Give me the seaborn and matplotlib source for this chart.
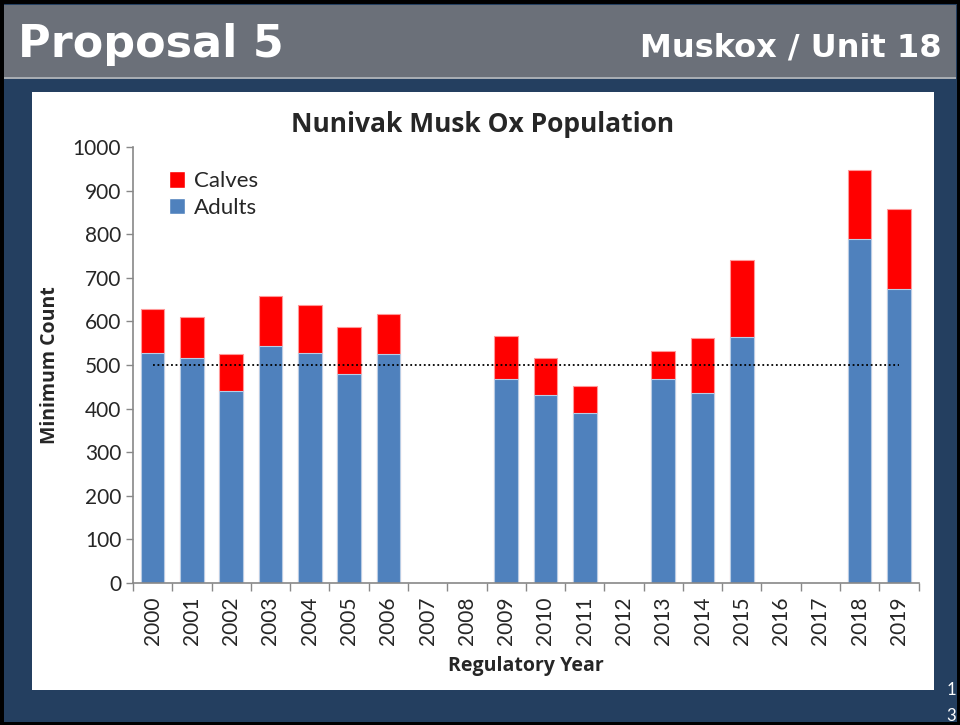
import numpy as np
import pandas as pd
import matplotlib
matplotlib.use('Agg')
import matplotlib.pyplot as plt
from matplotlib.patches import Rectangle, Patch
import seaborn as sns

# data
years = ['2000', '2001', '2002', '2003', '2004', '2005', '2006', '2007', '2008', '2009',
         '2010', '2011', '2012', '2013', '2014', '2015', '2016', '2017', '2018', '2019']
surveyed = ['2000', '2001', '2002', '2003', '2004', '2005', '2006',
            '2009', '2010', '2011', '2013', '2014', '2015', '2018', '2019']
adults = [527, 516, 441, 543, 527, 479, 525, 469, 432, 389, 467, 435, 564, 790, 675]
calves = [101, 93, 84, 115, 111, 109, 91, 97, 85, 62, 66, 128, 177, 158, 182]
objective = 500

musk = pd.DataFrame({'year': surveyed, 'adults': adults, 'calves': calves})
musk['total'] = musk['adults'] + musk['calves']

sns.set_style('white')
plt.rcParams['font.family'] = ['Lato', 'DejaVu Sans']
bold_font = ['Open Sans', 'DejaVu Sans']

fig = plt.figure(figsize=(9.6, 7.25), dpi=100)
fig.patch.set_facecolor('#243f60')

# slide header + white panel
fig.patches.append(Rectangle((0, 0), 1, 1, transform=fig.transFigure, fill=False,
                             edgecolor='black', linewidth=5, zorder=-5))
fig.patches.append(Rectangle((0.004, 1 - 77/725), 0.992, 72/725, transform=fig.transFigure,
                             facecolor='#6b7079', edgecolor='none', zorder=-5))
fig.patches.append(Rectangle((0.004, 1 - 79/725), 0.992, 2/725, transform=fig.transFigure,
                             facecolor='#a7acb2', edgecolor='none', zorder=-5))
fig.patches.append(Rectangle((32/960, 1 - 690/725), 902/960, 598/725, transform=fig.transFigure,
                             facecolor='white', edgecolor='none', zorder=-5))
fig.text(18/960, 1 - 44/725, 'Proposal 5', color='white', fontsize=32, fontweight='bold',
         va='center', ha='left', family='DejaVu Sans')
fig.text(942/960, 1 - 48/725, 'Muskox / Unit 18', color='white', fontsize=23,
         fontweight='bold', va='center', ha='right', family='DejaVu Sans')
fig.text(951/960, 1 - 690/725, '1', color='white', fontsize=12, ha='center', va='center')
fig.text(951/960, 1 - 716/725, '3', color='white', fontsize=12, ha='center', va='center')

# chart title is centred on the white panel, not on the axes
fig.text(483/960, 1 - 124/725, 'Nunivak Musk Ox Population', fontsize=19, fontweight='bold',
         family=bold_font, ha='center', va='center')

ax = fig.add_axes([133/960, 1 - 583/725, 785.6/960, 436/725])
ax.set_zorder(1)
ax.set_facecolor('white')

sns.barplot(data=musk, x='year', y='total', order=years, color='#ff0000', width=0.6,
            edgecolor='#ff9999', linewidth=0.8, saturation=1, ax=ax, label='Calves')
sns.barplot(data=musk, x='year', y='adults', order=years, color='#4f81bd', width=0.6,
            edgecolor='#b9cde5', linewidth=0.8, saturation=1, ax=ax, label='Adults')
ax.plot([0, len(years) - 1], [objective, objective], linestyle=(0, (1, 1.5)),
        color='black', linewidth=1.3)

ax.set_xlim(-0.5, len(years) - 0.5)
ax.set_ylim(0, 1000)
ax.set_yticks(range(0, 1001, 100))
ax.set_xticks(range(len(years)))
ax.set_xticklabels(years, rotation=90, fontsize=15)
ax.tick_params(axis='y', labelsize=15, length=5, width=1, color='#888888', direction='out', left=True)
ax.tick_params(axis='x', length=0, pad=10)
ax.set_xticks(np.arange(-0.5, len(years)), minor=True)
ax.tick_params(axis='x', which='minor', length=6, width=1, color='#888888', bottom=True)
for side in ['top', 'right']:
    ax.spines[side].set_visible(False)
for side in ['left', 'bottom']:
    ax.spines[side].set_color('#888888')
    ax.spines[side].set_linewidth(1.2)

ax.set_xlabel('Regulatory Year', fontsize=14, fontweight='bold', family=bold_font, labelpad=8)
ax.set_ylabel('Minimum Count', fontsize=14, fontweight='bold', family=bold_font, labelpad=9)

handles = [Patch(facecolor='#ff0000'), Patch(facecolor='#4f81bd')]
ax.legend(handles, ['Calves', 'Adults'], loc='upper left', bbox_to_anchor=(0.02, 0.99),
          frameon=False, fontsize=16, handlelength=0.75, handleheight=0.75,
          handletextpad=0.4, labelspacing=0.3)

fig.savefig('out.png', dpi=100, facecolor=fig.get_facecolor())
